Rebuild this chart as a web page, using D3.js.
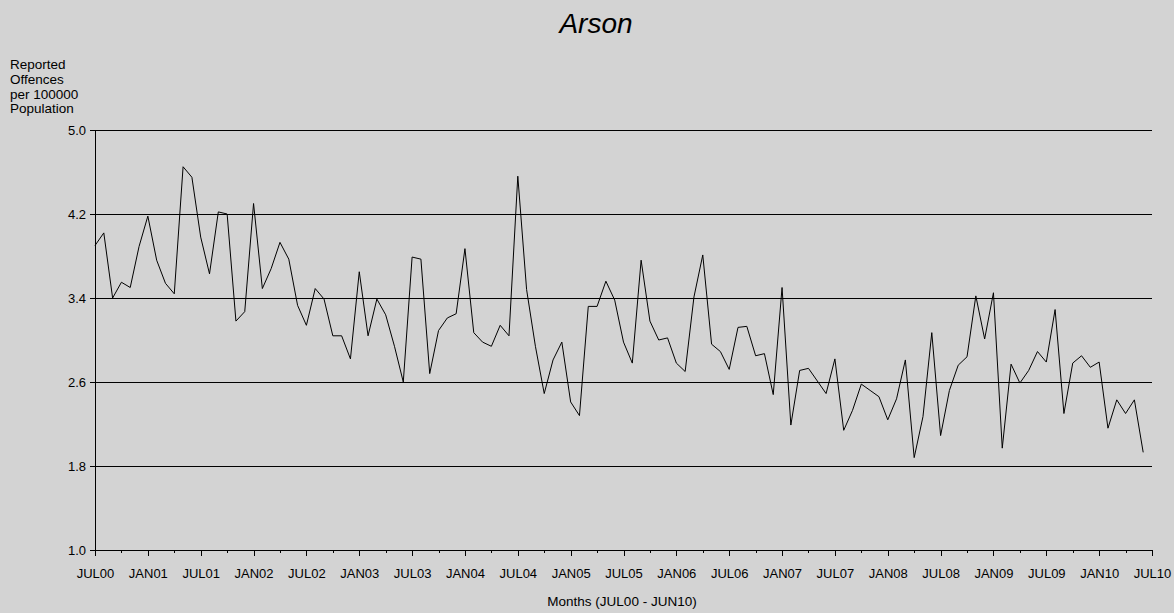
<!DOCTYPE html>
<html>
<head>
<meta charset="utf-8">
<script src="https://cdn.jsdelivr.net/npm/d3@7"></script>
<style>
  body { margin: 0; background: #d3d3d3; }
  svg { display: block; font-family: "Liberation Sans", Arial, sans-serif; }
</style>
</head>
<body>
<script>
const width = 1174,
      height = 613;

// monthly rate per 100000, JUL00 .. JUN10
const values = [
  3.90, 4.02, 3.40, 3.55, 3.50, 3.89, 4.18, 3.76, 3.54, 3.44,
  4.65, 4.55, 3.98, 3.63, 4.22, 4.20, 3.18, 3.27, 4.30, 3.49,
  3.68, 3.93, 3.77, 3.33, 3.14, 3.49, 3.39, 3.04, 3.04, 2.82,
  3.65, 3.04, 3.39, 3.24, 2.94, 2.60, 3.79, 3.77, 2.68, 3.09,
  3.21, 3.25, 3.87, 3.07, 2.98, 2.94, 3.14, 3.04, 4.56, 3.48,
  2.94, 2.49, 2.81, 2.98, 2.41, 2.28, 3.32, 3.32, 3.56, 3.38,
  2.98, 2.78, 3.76, 3.18, 3.00, 3.02, 2.78, 2.70, 3.41, 3.81,
  2.96, 2.89, 2.72, 3.12, 3.13, 2.85, 2.87, 2.48, 3.50, 2.19,
  2.71, 2.73, 2.61, 2.49, 2.82, 2.14, 2.33, 2.58, 2.52, 2.46,
  2.24, 2.44, 2.81, 1.88, 2.27, 3.07, 2.09, 2.52, 2.76, 2.84,
  3.42, 3.01, 3.45, 1.97, 2.77, 2.59, 2.71, 2.89, 2.79, 3.29,
  2.30, 2.78, 2.85, 2.74, 2.79, 2.16, 2.43, 2.30, 2.43, 1.93
];

const xTickLabels = ["JUL00", "JAN01", "JUL01", "JAN02", "JUL02", "JAN03", "JUL03",
  "JAN04", "JUL04", "JAN05", "JUL05", "JAN06", "JUL06", "JAN07", "JUL07",
  "JAN08", "JUL08", "JAN09", "JUL09", "JAN10", "JUL10"];
const yTicks = [1.0, 1.8, 2.6, 3.4, 4.2, 5.0];
const yLabelLines = ["Reported", "Offences", "per 100000", "Population"];

const plotLeft = 95, plotRight = 1152, plotTop = 130, plotBottom = 550;

const x = d3.scaleLinear().domain([0, 120]).range([plotLeft, plotRight]);
const y = d3.scaleLinear().domain([1, 5]).range([plotBottom, plotTop]);

const svg = d3.select("body")
              .append("svg")
              .attr("width", width)
              .attr("height", height);

svg.append("rect")
   .attr("width", width)
   .attr("height", height)
   .attr("fill", "#d3d3d3");

// gridlines
svg.append("g")
   .selectAll("line")
   .data(yTicks.slice(1))
   .join("line")
   .attr("x1", plotLeft).attr("x2", plotRight)
   .attr("y1", d => y(d)).attr("y2", d => y(d))
   .attr("stroke", "#000")
   .attr("stroke-width", 1)
   .attr("shape-rendering", "crispEdges");

// y axis
const yAxis = svg.append("g")
   .attr("transform", `translate(${plotLeft},0)`)
   .call(d3.axisLeft(y).tickValues(yTicks).tickFormat(d3.format(".1f")).tickSize(5).tickPadding(4));
yAxis.select(".domain").attr("shape-rendering", "crispEdges");
yAxis.selectAll(".tick line").attr("shape-rendering", "crispEdges");
yAxis.selectAll("text").attr("font-size", 13).attr("font-family", "Liberation Sans, Arial, sans-serif").attr("fill", "#000");

// x axis: major ticks every 6 months with labels, minor every 3
const minor = d3.range(0, 121, 3);
const xAxis = svg.append("g")
   .attr("transform", `translate(0,${plotBottom})`)
   .call(d3.axisBottom(x).tickValues(minor).tickSize(3).tickFormat(""));
xAxis.select(".domain").remove();
xAxis.append("line")
   .attr("x1", plotLeft).attr("x2", plotRight)
   .attr("stroke", "#000")
   .attr("shape-rendering", "crispEdges");
xAxis.selectAll(".tick line").attr("shape-rendering", "crispEdges");

const major = svg.append("g")
   .attr("transform", `translate(0,${plotBottom})`)
   .call(d3.axisBottom(x).tickValues(d3.range(0, 121, 6))
           .tickFormat((d, i) => xTickLabels[i]).tickSize(6).tickPadding(13));
major.select(".domain").remove();
major.selectAll(".tick line").attr("shape-rendering", "crispEdges");
major.selectAll("text").attr("font-size", 13).attr("font-family", "Liberation Sans, Arial, sans-serif").attr("fill", "#000");

// data line
const line = d3.line()
   .x((d, i) => x(i))
   .y(d => y(d));

svg.append("path")
   .datum(values)
   .attr("fill", "none")
   .attr("stroke", "#000")
   .attr("stroke-width", 1)
   .attr("d", line);

// title
svg.append("text")
   .attr("x", 596)
   .attr("y", 33)
   .attr("text-anchor", "middle")
   .attr("font-size", 28)
   .attr("font-style", "italic")
   .text("Arson");

// y axis title
svg.append("g")
   .selectAll("text")
   .data(yLabelLines)
   .join("text")
   .attr("x", 10)
   .attr("y", (d, i) => 69 + i * 14.8)
   .attr("font-size", 13.5)
   .text(d => d);

// x axis title
svg.append("text")
   .attr("x", 622)
   .attr("y", 606)
   .attr("text-anchor", "middle")
   .attr("font-size", 13.5)
   .text("Months (JUL00 - JUN10)");
</script>
</body>
</html>
